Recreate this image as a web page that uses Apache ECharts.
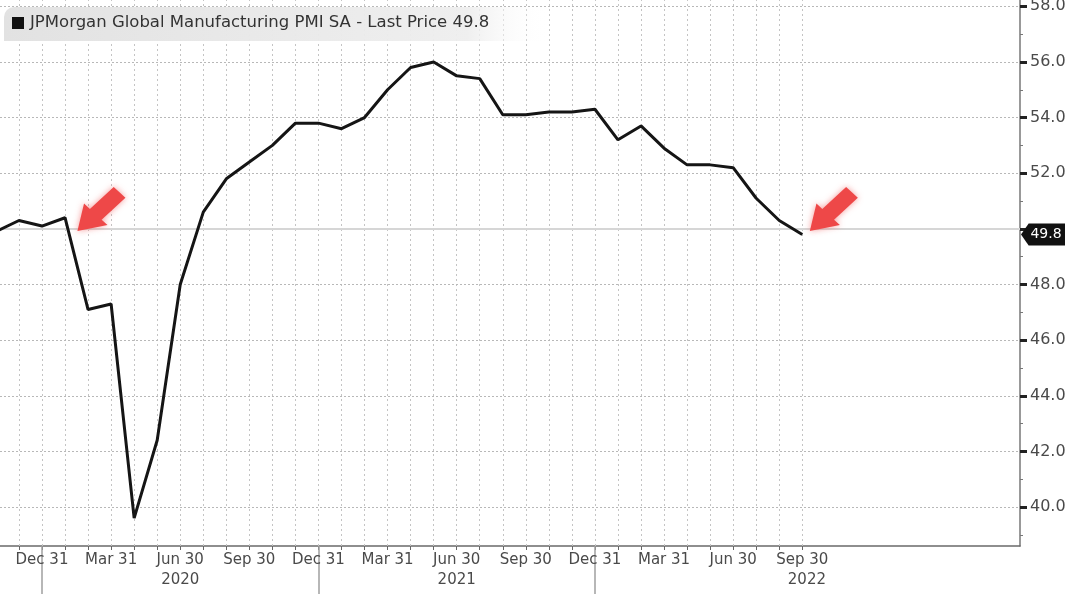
<!DOCTYPE html>
<html><head><meta charset="utf-8">
<script src="https://cdn.jsdelivr.net/npm/echarts@6/dist/echarts.min.js"></script>
<style>html,body{margin:0;padding:0;background:#fff;overflow:hidden}#c{width:1080px;height:608px;margin-top:-4px}</style>
</head><body><div id="c"></div>
<script>
// month index 0 = Oct 2019 ... 35 = Sep 2022
const months = ['2019-10','2019-11','2019-12',
  '2020-01','2020-02','2020-03','2020-04','2020-05','2020-06','2020-07','2020-08','2020-09','2020-10','2020-11','2020-12',
  '2021-01','2021-02','2021-03','2021-04','2021-05','2021-06','2021-07','2021-08','2021-09','2021-10','2021-11','2021-12',
  '2022-01','2022-02','2022-03','2022-04','2022-05','2022-06','2022-07','2022-08','2022-09'];
const pmiValues = [49.9, 50.3, 50.1,
  50.4, 47.1, 47.3, 39.6, 42.4, 48.0, 50.6, 51.8, 52.4, 53.0, 53.8, 53.8,
  53.6, 54.0, 55.0, 55.8, 56.0, 55.5, 55.4, 54.1, 54.1, 54.2, 54.2, 54.3,
  53.2, 53.7, 52.9, 52.3, 52.3, 52.2, 51.1, 50.3, 49.8];
const tickLabelIndex = [2, 5, 8, 11, 14, 17, 20, 23, 26, 29, 32, 35];
const tickLabels = ['Dec 31','Mar 31','Jun 30','Sep 30','Dec 31','Mar 31','Jun 30','Sep 30','Dec 31','Mar 31','Jun 30','Sep 30'];
const yearLabels = ['2020', '2021', '2022'];
const yearLabelIndex = [8, 20, 35.2];
const yearBoundaryIndex = [2, 14, 26];
const yMajorTicks = [40, 42, 44, 46, 48, 50, 52, 54, 56, 58];
const yLabelValues = [40, 42, 44, 46, 48, 52, 54, 56, 58];
const yMinorTicks = [39, 41, 43, 45, 47, 49, 51, 53, 55, 57];
const lastPrice = 49.8;
const legendText = 'JPMorgan Global Manufacturing PMI SA - Last Price 49.8';
const arrowAnchors = [[4.58, 50.71], [36.37, 50.71]];

const xMin = 0.177, xMax = 44.45, yMin = 38.6, yMax = 58.37;
const FONT = 'DejaVu Sans';
const monthTicks = months.map((m, i) => i).filter(i => i >= 1);
const lineData = pmiValues.map((v, i) => [i, v]);

const gridLines = [];
monthTicks.forEach(i => gridLines.push({xAxis: i, lineStyle: {color: '#c4c4c4', width: 1, type: [2, 3]}}));
yMajorTicks.forEach(v => {
  if (v === 50) gridLines.push({yAxis: v, lineStyle: {color: '#d6d6d6', width: 2, type: 'solid'}});
  else gridLines.push({yAxis: v, lineStyle: {color: '#b8b8b8', width: 1, type: [2, 2]}});
});

const arrowPath = 'path://M0,100 L12.73,42.01 L24.05,53.33 L70.01,7.37 L92.63,29.99 L46.67,75.95 L57.99,87.27 Z';

const chart = echarts.init(document.getElementById('c'));
chart.setOption({
  animation: false,
  backgroundColor: '#fff',
  grid: {left: 0, right: 60, top: 0, bottom: 58},
  xAxis: [{
    type: 'value', min: xMin, max: xMax,
    axisLine: {show: true, lineStyle: {color: '#6a6a6a', width: 1.5}},
    axisTick: {show: true, customValues: monthTicks, length: 4, lineStyle: {color: '#666', width: 1}},
    axisLabel: {show: true, customValues: tickLabelIndex, margin: 7,
      formatter: v => tickLabels[tickLabelIndex.indexOf(Math.round(v))] || '',
      fontFamily: FONT, fontSize: 15, color: '#4a4a4a'},
    splitLine: {show: false}
  }, {
    type: 'value', min: xMin, max: xMax, position: 'bottom',
    axisLine: {show: false},
    axisTick: {show: true, customValues: yearBoundaryIndex, length: 48, lineStyle: {color: '#a0a0a0', width: 1.5}},
    axisLabel: {show: true, customValues: yearLabelIndex, margin: 27,
      formatter: v => { const k = yearLabelIndex.findIndex(p => Math.abs(p - v) < 0.01); return k >= 0 ? yearLabels[k] : ''; },
      fontFamily: FONT, fontSize: 15, color: '#4a4a4a'},
    splitLine: {show: false}
  }],
  yAxis: [{
    type: 'value', position: 'right', min: yMin, max: yMax,
    axisLine: {show: true, lineStyle: {color: '#777', width: 1.5}},
    axisTick: {show: true, customValues: yMajorTicks, length: 7, lineStyle: {color: '#222', width: 3}},
    axisLabel: {show: true, customValues: yLabelValues, margin: 10,
      formatter: v => v.toFixed(1), fontFamily: FONT, fontSize: 16, color: '#4a4a4a'},
    splitLine: {show: false}
  }, {
    type: 'value', position: 'right', min: yMin, max: yMax,
    axisLine: {show: false},
    axisTick: {show: true, customValues: yMinorTicks, length: 3, lineStyle: {color: '#777', width: 1}},
    axisLabel: {show: false},
    splitLine: {show: false}
  }],
  series: [{
    name: 'grid', type: 'line', data: lineData, z: 1,
    showSymbol: false, symbol: 'none', silent: true,
    lineStyle: {opacity: 0, width: 0},
    markLine: {silent: true, symbol: ['none', 'none'], label: {show: false}, animation: false, data: gridLines}
  }, {
    name: 'PMI', type: 'line', data: lineData, z: 5, clip: true,
    symbol: 'none', showSymbol: false,
    lineStyle: {color: '#151515', width: 3},
    markPoint: {
      silent: true, animation: false,
      data: [
        ...arrowAnchors.map(c => ({coord: c, symbol: arrowPath, symbolSize: [48, 44],
          itemStyle: {color: '#ee4848', shadowBlur: 6, shadowColor: 'rgba(238,72,72,0.55)'},
          label: {show: false}})),
        {coord: [xMax, lastPrice], symbol: 'path://M0,11 L8,0 L46,0 L46,22 L8,22 Z',
          symbolSize: [44, 22], symbolOffset: [23, 0],
          itemStyle: {color: '#111'},
          label: {show: true, position: 'inside', formatter: lastPrice.toFixed(1), color: '#fff',
            fontFamily: FONT, fontSize: 14, offset: [3, 0]}}
      ]
    }
  }],
  graphic: [
    {type: 'rect', z: 100, shape: {x: 4, y: 11, width: 545, height: 34, r: [10, 0, 0, 0]},
      style: {fill: new echarts.graphic.LinearGradient(0, 0, 1, 0, [
        {offset: 0, color: 'rgba(226,226,226,1)'},
        {offset: 0.85, color: 'rgba(238,238,238,0.95)'},
        {offset: 1, color: 'rgba(255,255,255,0)'}])}},
    {type: 'rect', z: 101, shape: {x: 12, y: 21, width: 12, height: 12}, style: {fill: '#111'}},
    {type: 'text', z: 101, x: 30, y: 27,
      style: {text: legendText, fontFamily: FONT, fontSize: 16.5, fill: '#333', verticalAlign: 'middle'}}
  ]
});
</script></body></html>
